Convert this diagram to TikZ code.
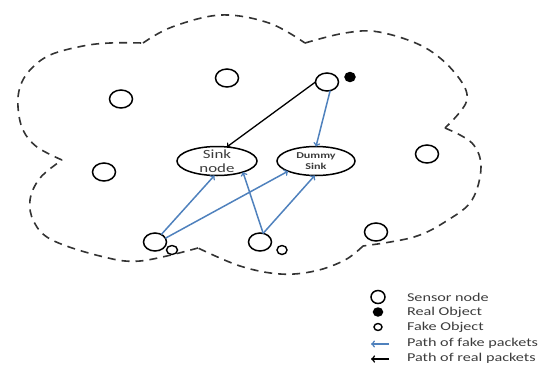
\documentclass[tikz,border=0pt]{standalone}
\usepackage{fontspec}
\setmainfont{Carlito}[FakeStretch=1.35]
\usepackage{tikz}
\usetikzlibrary{positioning}
\usetikzlibrary{arrows}
\usetikzlibrary{shapes}
\definecolor{pathblue}{RGB}{79,129,189}
\definecolor{textgray}{RGB}{60,60,60}

\begin{document}
\begin{tikzpicture}
[x=1pt,y=-1pt,>=to, sensor node/.style={ellipse,draw,line width=1.5pt,minimum
    width=23pt,minimum height=18pt, inner sep=0pt, outer sep=0pt}, obj
  node/.style={ellipse,draw,line width=1.4pt,minimum width=11pt,minimum
    height=9pt, inner sep=0pt, outer sep=0pt}, sink
  node/.style={ellipse,draw,line width=1.5pt,minimum width=80pt,minimum
    height=29pt, inner sep=0pt, outer sep=0pt}, empt
  node/.style={inner sep=0pt,outer sep=0pt,text=textgray}, cloud
  line/.style={dash pattern=on 8pt off 6pt,line width=1.6pt,
    draw=black!80}, fake path/.style={->,draw=pathblue,line width=1.5pt},
  real path/.style={->,draw=black,line width=1.3pt}]

    \useasboundingbox (0,0) rectangle (542,365);

    % network area
    \draw[cloud line] plot[smooth,tension=0.6] coordinates {(62,160) (37,147)
      (23,130) (18,107) (20,87) (30,70) (50,55) (83,46) (110,43) (143,43)};
    \draw[cloud line] plot[smooth,tension=0.6] coordinates {(143,43) (172,27)
      (221,15) (269,23) (305,43)};
    \draw[cloud line] plot[smooth,tension=0.6] coordinates {(305,43) (345,33)
      (379,32) (424,47) (455,73) (467,100) (445,128)};
    \draw[cloud line] plot[smooth,tension=0.6] coordinates {(445,128) (472,143)
      (481,167) (472,200) (448,220) (414,237) (363,246)};
    \draw[cloud line] plot[smooth,tension=0.6] coordinates {(363,246) (345,260)
      (315,271) (280,274) (240,266) (198,248)};
    \draw[cloud line] plot[smooth,tension=0.6] coordinates {(198,248) (140,261)
      (100,256) (52,240) (34,222) (30,200) (40,178) (62,160)};

    \node [sensor node] (s1) at (121,99) {};
    \node [sensor node] (s2) at (227,78) {};
    \node [sensor node] (s3) at (327,82) {};
    \node [obj node, fill=black, minimum width=10pt] (r1) at (350,77) {};
    \node [sensor node] (s4) at (104,172) {};
    \node [sensor node] (s5) at (427,154) {};
    \node [sensor node] (s6) at (376,232) {};
    \node [sensor node] (s7) at (155,242) {};
    \node [obj node] (f1) at (172,250) {};
    \node [sensor node] (s8) at (260,242) {};
    \node [obj node, minimum width=10pt] (f2) at (282,250) {};

    \node [sink node, label={[empt node, align=center,
      font=\fontsize{12.5}{14}\selectfont]center:Sink\\node}] (sink) at (217,161) {};
    \node [sink node, minimum width=78pt, label={[empt node, align=center,
      font=\fontsize{9}{11}\selectfont\bfseries]center:Dummy\\Sink}] (dummy)
      at (316,161) {};

    \draw[real path] (s3.west) -- (sink.55);
    \draw[fake path] (s3.-70) -- (dummy.north);
    \draw[fake path] (s7.50) -- (sink.-100);
    \draw[fake path] (s7.20) -- (dummy.-160);
    \draw[fake path] (s8.70) -- (sink.-23);
    \draw[fake path] (s8.70) -- (dummy.-95);

    % legend
    \node [sensor node, minimum width=14pt, minimum height=13pt] (l1) at (378,297) {};
    \node [empt node, font=\fontsize{12}{14}\selectfont, anchor=west] (l1t) at (407,297) {Sensor node};
    \node [obj node, fill=black, minimum width=9pt, minimum height=8pt] (l2) at (378,312) {};
    \node [empt node, font=\fontsize{12}{14}\selectfont, anchor=west] (l2t) at (407,312) {Real Object};
    \node [obj node, minimum width=8pt, minimum height=7pt] (l3) at (378,327) {};
    \node [empt node, font=\fontsize{12}{14}\selectfont, anchor=west] (l3t) at (407,327) {Fake Object};
    \coordinate (l4a) at (389,344);
    \coordinate (l4b) at (371,344);
    \draw[fake path] (l4a) -- (l4b);
    \node [empt node, font=\fontsize{12}{14}\selectfont, anchor=west] (l4t) at (407,343) {Path of fake packets};
    \coordinate (l5a) at (389,359);
    \coordinate (l5b) at (371,359);
    \draw[real path, line width=1.6pt] (l5a) -- (l5b);
    \node [empt node, font=\fontsize{12}{14}\selectfont, anchor=west] (l5t) at (407,358) {Path of real packets};
\end{tikzpicture}
\end{document}
